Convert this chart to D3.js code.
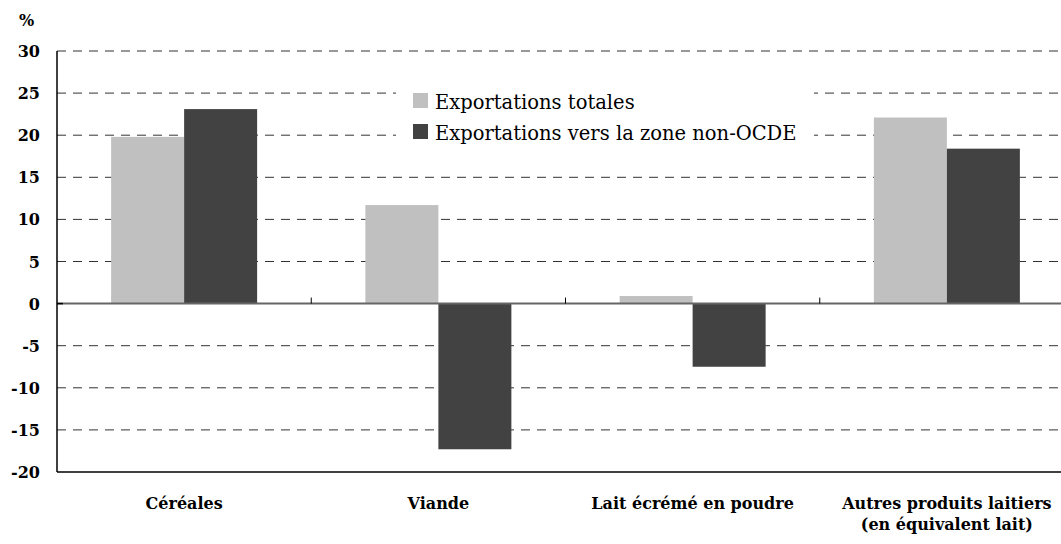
<!DOCTYPE html>
<html>
<head>
<meta charset="utf-8">
<script src="https://cdn.jsdelivr.net/npm/d3@7"></script>
<style>
  body { margin: 0; background: #fff; }
</style>
</head>
<body>
<svg id="chart" width="1061" height="544" font-family="'DejaVu Serif', serif"></svg>
<script>
// chart data
const categories = ['Céréales', 'Viande', 'Lait écrémé en poudre', 'Autres produits laitiers|(en équivalent lait)'];
const seriesNames = ['Exportations totales', 'Exportations vers la zone non-OCDE'];
const totales = [19.8, 11.7, 0.9, 22.1];
const nonOcde = [23.1, -17.3, -7.5, 18.4];
const yTicks = [30, 25, 20, 15, 10, 5, 0, -5, -10, -15, -20];
const colors = ['#c0c0c0', '#424242'];

const svg = d3.select('#chart');
const plotL = 57, plotR = 1074, plotT = 51, plotB = 472;

const x = d3.scaleBand().domain(categories).range([plotL, plotR]);
const xs = d3.scaleBand().domain([0, 1]).range([0, 146]);
const y = d3.scaleLinear().domain([-20, 30]).range([plotB, plotT]);

// gridlines
svg.append('g')
  .selectAll('line')
  .data(yTicks.filter(d => d !== 0 && d !== -20))
  .enter()
  .append('line')
  .attr('x1', plotL).attr('x2', plotR)
  .attr('y1', d => y(d)).attr('y2', d => y(d))
  .attr('stroke', d => d === 30 ? '#777' : '#333')
  .attr('stroke-width', d => d === 30 ? 1.5 : 1)
  .attr('stroke-dasharray', '9,7');

// legend background hides gridlines
svg.append('rect')
  .attr('x', 396).attr('y', 78).attr('width', 418).attr('height', 76)
  .attr('fill', '#fff');

// bars
const data = [];
categories.forEach((c, i) => {
  data.push({ cat: c, s: 0, v: totales[i] });
  data.push({ cat: c, s: 1, v: nonOcde[i] });
});

svg.append('g')
  .selectAll('rect')
  .data(data)
  .enter()
  .append('rect')
  .attr('x', d => x(d.cat) + (x.bandwidth() - 146) / 2 + xs(d.s))
  .attr('width', xs.bandwidth())
  .attr('y', d => y(Math.max(0, d.v)))
  .attr('height', d => Math.abs(y(d.v) - y(0)))
  .attr('fill', d => colors[d.s]);

// zero line
svg.append('line')
  .attr('x1', plotL).attr('x2', plotR)
  .attr('y1', y(0)).attr('y2', y(0))
  .attr('stroke', '#666').attr('stroke-width', 2);

// category separators on zero line
svg.append('g')
  .selectAll('line')
  .data(categories.slice(1))
  .enter()
  .append('line')
  .attr('x1', d => x(d)).attr('x2', d => x(d))
  .attr('y1', y(0) - 6).attr('y2', y(0))
  .attr('stroke', '#000');

// axes lines
svg.append('line')
  .attr('x1', plotL).attr('x2', plotL).attr('y1', plotT).attr('y2', plotB)
  .attr('stroke', '#000').attr('stroke-width', 1.5);
svg.append('line')
  .attr('x1', plotL).attr('x2', plotR).attr('y1', plotB).attr('y2', plotB)
  .attr('stroke', '#000').attr('stroke-width', 1.5);
svg.append('line')
  .attr('x1', plotL).attr('x2', plotL + 6).attr('y1', y(0)).attr('y2', y(0))
  .attr('stroke', '#000').attr('stroke-width', 1.5);

// y labels
svg.append('g')
  .selectAll('text')
  .data(yTicks)
  .enter()
  .append('text')
  .attr('x', 40)
  .attr('y', d => y(d) + 6)
  .attr('text-anchor', 'end')
  .attr('font-size', 16)
  .attr('font-weight', 'bold')
  .text(d => d);

svg.append('text')
  .attr('x', 19).attr('y', 26)
  .attr('font-size', 16).attr('font-weight', 'bold')
  .text('%');

// category labels
const catLabels = svg.append('g')
  .selectAll('text')
  .data(categories)
  .enter()
  .append('text')
  .attr('text-anchor', 'middle')
  .attr('font-size', 16)
  .attr('font-weight', 'bold');
catLabels.each(function (d) {
  const parts = d.split('|');
  const cx = x(d) + x.bandwidth() / 2;
  parts.forEach((p, i) => {
    d3.select(this).append('tspan')
      .attr('x', cx)
      .attr('y', 509 + i * 21)
      .text(p);
  });
});

// legend
const lg = svg.append('g')
  .selectAll('g')
  .data(seriesNames)
  .enter()
  .append('g')
  .attr('transform', (d, i) => 'translate(413,' + (93 + i * 31) + ')');
lg.append('rect')
  .attr('width', 15).attr('height', 15)
  .attr('fill', (d, i) => colors[i]);
lg.append('text')
  .attr('x', 22).attr('y', 16)
  .attr('font-size', 19.5)
  .text(d => d);
</script>
</body>
</html>
